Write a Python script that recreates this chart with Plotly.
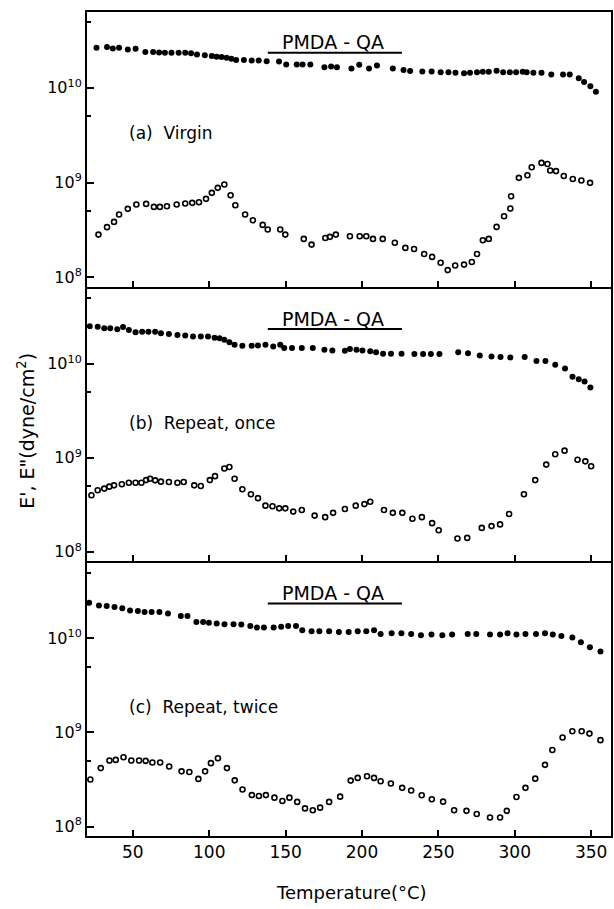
import plotly.graph_objects as go

# ---------------- data ----------------
# Panel (a) Virgin
a_T_E1 = [26.2, 33.1, 36.9, 41.0, 46.7, 51.8, 58.2, 63.3, 67.2, 71.0, 75.3, 80.0, 84.3, 88.1, 92.0, 97.1,
          101.7, 104.8, 108.1, 111.4, 114.5, 117.6, 122.7, 127.8, 132.4, 137.6, 145.7, 150.4, 157.3, 161.1,
          166.2, 175.4, 179.8, 183.6, 193.1, 198.2, 204.6, 209.8, 220.2, 227.2, 231.5, 239.5, 245.6, 251.5,
          256.6, 261.2, 266.8, 270.7, 275.3, 279.1, 283.0, 288.1, 292.4, 296.8, 300.9, 305.2, 307.8, 312.2,
          317.5, 323.9, 331.6, 336.0, 341.9, 345.4, 349.5, 353.1]
a_E1 = [2.65, 2.69, 2.60, 2.65, 2.54, 2.58, 2.38, 2.38, 2.36, 2.34, 2.34, 2.34, 2.34, 2.31, 2.25, 2.20,
        2.16, 2.13, 2.11, 2.07, 2.02, 1.96, 1.96, 1.94, 1.94, 1.91, 1.90, 1.76, 1.76, 1.76, 1.76, 1.65,
        1.68, 1.65, 1.60, 1.75, 1.60, 1.72, 1.60, 1.54, 1.50, 1.49, 1.49, 1.46, 1.46, 1.44, 1.42, 1.44,
        1.46, 1.48, 1.48, 1.51, 1.46, 1.46, 1.46, 1.48, 1.46, 1.44, 1.44, 1.38, 1.38, 1.38, 1.26, 1.15,
        1.04, 0.91]  # x 1e10
a_T_E2 = [27.5, 33.1, 37.7, 41.0, 46.7, 52.3, 58.7, 63.8, 67.7, 72.3, 78.7, 84.3, 88.9, 93.3, 97.9,
          101.7, 105.6, 109.9, 114.0, 117.1, 123.5, 128.6, 135.0, 138.3, 146.5, 149.8, 161.9, 167.0,
          176.0, 179.0, 182.9, 192.1, 198.5, 202.8, 207.2, 213.6, 221.5, 228.4, 234.1, 240.7, 245.9,
          251.5, 256.1, 261.0, 266.8, 271.9, 275.3, 279.1, 283.0, 288.1, 293.0, 297.1, 297.6, 302.7,
          308.3, 311.1, 317.5, 321.4, 323.2, 327.0, 332.1, 338.0, 343.6, 349.3]
a_E2 = [2.82, 3.38, 3.84, 4.59, 5.27, 5.86, 5.95, 5.53, 5.53, 5.62, 5.86, 6.00, 6.10, 6.20, 6.72, 7.78,
        8.78, 9.52, 7.35, 5.76, 4.59, 4.00, 3.57, 3.19, 3.19, 2.82, 2.54, 2.21, 2.60, 2.67, 2.82, 2.71,
        2.71, 2.71, 2.54, 2.54, 2.31, 2.04, 1.99, 1.76, 1.64, 1.42, 1.19, 1.33, 1.36, 1.45, 1.76, 2.46,
        2.54, 3.40, 4.41, 5.31, 7.17, 11.2, 11.95, 14.5, 16.1, 15.7, 13.4, 13.2, 11.7, 10.9, 10.5, 9.92]  # x 1e8

# Panel (b) Repeat, once
b_T_E1 = [21.8, 27.0, 31.3, 35.2, 39.8, 43.6, 47.4, 51.8, 56.1, 60.2, 64.6, 68.4, 73.6, 79.2, 84.3,
          89.4, 94.5, 99.2, 103.5, 106.8, 109.9, 113.2, 116.6, 121.7, 127.8, 131.9, 136.8, 141.9, 146.5,
          149.1, 154.2, 160.6, 167.8, 175.4, 180.6, 188.8, 192.1, 196.4, 200.3, 205.4, 209.2, 213.8,
          219.0, 225.9, 234.3, 240.0, 245.1, 250.7, 263.0, 269.4, 277.1, 284.8, 290.7, 297.1, 306.5,
          314.2, 320.1, 326.5, 332.9, 337.8, 341.9, 345.7, 349.5]
b_E1 = [2.52, 2.48, 2.39, 2.39, 2.33, 2.46, 2.29, 2.17, 2.20, 2.20, 2.20, 2.11, 2.08, 2.03, 2.00, 1.95,
        1.95, 1.95, 1.90, 1.87, 1.80, 1.70, 1.60, 1.56, 1.56, 1.57, 1.60, 1.53, 1.60, 1.47, 1.47, 1.47,
        1.47, 1.41, 1.39, 1.38, 1.44, 1.41, 1.39, 1.36, 1.33, 1.28, 1.28, 1.28, 1.27, 1.27, 1.27, 1.27,
        1.33, 1.30, 1.23, 1.20, 1.18, 1.17, 1.18, 1.07, 1.07, 0.98, 0.89, 0.73, 0.685, 0.647, 0.56]
b_T_E2 = [22.9, 27.0, 31.3, 34.6, 37.7, 42.8, 47.4, 51.8, 55.6, 58.7, 61.3, 64.6, 68.4, 73.6, 79.2,
          83.3, 90.2, 94.5, 100.4, 103.8, 109.9, 113.2, 116.6, 121.7, 127.3, 131.9, 136.8, 141.4, 145.8,
          149.8, 155.0, 160.6, 169.0, 175.9, 181.1, 188.8, 195.9, 201.6, 205.4, 214.4, 220.2, 226.4,
          233.0, 239.2, 245.9, 250.2, 262.5, 268.9, 278.4, 284.8, 290.4, 296.3, 306.0, 313.4, 320.6,
          326.5, 332.6, 341.1, 346.2, 350.0]
b_E2 = [3.99, 4.51, 4.69, 4.92, 5.08, 5.21, 5.42, 5.42, 5.42, 5.78, 5.97, 5.74, 5.56, 5.51, 5.42, 5.51,
        5.08, 5.00, 5.78, 6.37, 7.67, 7.98, 5.97, 4.62, 4.09, 3.71, 3.09, 3.04, 2.89, 2.89, 2.67, 2.78,
        2.42, 2.33, 2.59, 2.85, 3.09, 3.21, 3.40, 2.78, 2.59, 2.59, 2.24, 2.33, 2.01, 1.69, 1.38, 1.40,
        1.79, 1.87, 1.95, 2.52, 4.09, 5.78, 8.45, 10.9, 11.9, 9.53, 9.15, 8.11]

# Panel (c) Repeat, twice
c_T_E1 = [21.4, 27.8, 32.9, 38.0, 43.1, 48.2, 53.3, 57.7, 62.3, 67.4, 73.0, 81.4, 85.8, 91.6, 96.0,
          99.8, 104.9, 110.0, 115.9, 121.0, 126.9, 131.2, 135.8, 142.2, 147.1, 151.7, 156.8, 160.9,
          167.0, 172.1, 178.5, 184.9, 191.3, 197.2, 202.8, 207.9, 212.2, 219.4, 225.8, 232.2, 238.6,
          245.5, 252.6, 259.0, 269.2, 274.8, 283.8, 290.4, 295.3, 301.1, 307.0, 313.9, 319.8, 324.9,
          330.5, 337.7, 343.3, 349.2, 356.1]
c_E1 = [2.38, 2.23, 2.20, 2.15, 2.09, 1.98, 1.95, 1.90, 1.90, 1.90, 1.83, 1.73, 1.73, 1.49, 1.49, 1.46,
        1.44, 1.41, 1.41, 1.40, 1.35, 1.30, 1.30, 1.30, 1.33, 1.35, 1.35, 1.22, 1.19, 1.19, 1.19, 1.17,
        1.17, 1.19, 1.19, 1.22, 1.11, 1.13, 1.13, 1.11, 1.08, 1.10, 1.08, 1.10, 1.11, 1.11, 1.10, 1.10,
        1.13, 1.10, 1.11, 1.11, 1.13, 1.10, 1.06, 1.02, 0.908, 0.805, 0.725]
c_T_E2 = [22.2, 29.0, 34.7, 38.8, 43.9, 49.0, 54.1, 58.4, 62.8, 67.9, 73.8, 81.9, 87.0, 92.9, 97.3,
          101.1, 105.7, 111.6, 116.7, 121.8, 127.9, 132.5, 137.1, 142.7, 147.9, 152.5, 157.6, 162.7,
          167.8, 172.6, 178.5, 185.7, 192.6, 197.2, 203.3, 207.9, 212.2, 218.9, 226.3, 232.2, 239.1,
          245.7, 253.1, 260.3, 268.4, 275.1, 283.8, 290.4, 294.8, 301.1, 307.0, 313.4, 319.8, 324.6,
          331.3, 337.7, 343.8, 348.9, 356.1]
c_E2 = [3.16, 4.18, 5.03, 5.11, 5.45, 5.03, 5.03, 4.99, 4.79, 4.79, 4.35, 3.86, 3.80, 3.21, 3.86, 4.72,
        5.32, 4.18, 3.10, 2.48, 2.16, 2.11, 2.16, 2.03, 1.87, 2.03, 1.83, 1.56, 1.49, 1.59, 1.83, 2.08,
        3.08, 3.29, 3.42, 3.29, 3.03, 2.87, 2.58, 2.42, 2.15, 1.95, 1.84, 1.49, 1.47, 1.36, 1.25, 1.25,
        1.47, 2.06, 2.58, 3.23, 4.53, 6.51, 8.83, 10.3, 10.3, 9.72, 8.28]

panel_titles = ["PMDA - QA", "PMDA - QA", "PMDA - QA"]
panel_labels = ["(a)  Virgin", "(b)  Repeat, once", "(c)  Repeat, twice"]
x_ticks = [50, 100, 150, 200, 250, 300, 350]
y_ticks = [1e8, 1e9, 1e10]
y_ticktext = ["10<sup>8</sup>", "10<sup>9</sup>", "10<sup>10</sup>"]
y_minor = [5e7, 5e8, 5e9, 5e10]

panels = [
    (a_T_E1, a_E1, a_T_E2, a_E2),
    (b_T_E1, b_E1, b_T_E2, b_E2),
    (c_T_E1, c_E1, c_T_E2, c_E2),
]

FONT = "DejaVu Sans"
fig = go.Figure()

domains = [[0.6666, 1.0], [0.3337, 0.6642], [0.0, 0.3313]]
label_y = [0.56, 0.506, 0.472]

for i, (t1, e1, t2, e2) in enumerate(panels):
    n = "" if i == 0 else str(i + 1)
    xa, ya = "x" + n, "y" + n
    fig.add_trace(go.Scatter(x=t1, y=[v * 1e10 for v in e1], mode="markers", xaxis=xa, yaxis=ya,
                             marker=dict(symbol="circle", size=6, color="black"), showlegend=False))
    fig.add_trace(go.Scatter(x=t2, y=[v * 1e8 for v in e2], mode="markers", xaxis=xa, yaxis=ya,
                             marker=dict(symbol="circle-open", size=5, color="black", line=dict(width=1.6)),
                             showlegend=False))
    xaxis = dict(domain=[0, 1], range=[20, 363], anchor=ya, showline=True, mirror=True, linecolor="black",
                 linewidth=2, ticks="inside", ticklen=6, tickwidth=1.5, tickcolor="black",
                 tickvals=x_ticks, showgrid=False, zeroline=False, showticklabels=(i == 2),
                 tickfont=dict(family=FONT, size=17, color="black"))
    if i > 0:
        xaxis["matches"] = "x"
    yaxis = dict(domain=domains[i], type="log", range=[7.90, 10.80], anchor=xa, showline=True, mirror=True,
                 linecolor="black", linewidth=2, ticks="inside", ticklen=7, tickwidth=1.5, tickcolor="black",
                 tickvals=y_ticks, ticktext=y_ticktext, showgrid=False, zeroline=False,
                 tickfont=dict(family=FONT, size=16, color="black"),
                 minor=dict(tickvals=y_minor, ticks="inside", ticklen=4, tickwidth=1.5, tickcolor="black",
                            showgrid=False))
    fig.layout["xaxis" + n] = xaxis
    fig.layout["yaxis" + n] = yaxis

    fig.add_annotation(text=panel_titles[i], xref=xa + " domain", yref=ya + " domain", x=0.47, y=0.89,
                       xanchor="center", yanchor="middle", showarrow=False,
                       font=dict(family=FONT, size=19, color="black"))
    fig.add_shape(type="line", xref=xa + " domain", yref=ya + " domain", x0=0.345, x1=0.601, y0=0.852,
                  y1=0.852, line=dict(color="black", width=2))
    fig.add_annotation(text=panel_labels[i], xref=xa + " domain", yref=ya + " domain", x=0.077,
                       y=label_y[i], xanchor="left", yanchor="middle", showarrow=False,
                       font=dict(family=FONT, size=17, color="black"))

fig.add_annotation(text="E', E\"(dyne/cm<sup>2</sup>)", xref="paper", yref="paper", x=-0.117, y=0.4915,
                   xanchor="center", yanchor="middle", textangle=-90, showarrow=False,
                   font=dict(family=FONT, size=19, color="black"))
fig.add_annotation(text="Temperature(°C)", xref="paper", yref="paper", x=0.504, y=-0.069,
                   xanchor="center", yanchor="middle", showarrow=False,
                   font=dict(family=FONT, size=18, color="black"))

fig.update_layout(width=614, height=909, margin=dict(l=87, r=1, t=12, b=73),
                  paper_bgcolor="white", plot_bgcolor="white")

fig.write_html("out.html", config={"displayModeBar": False},
               post_script="document.body.style.margin='0';")
